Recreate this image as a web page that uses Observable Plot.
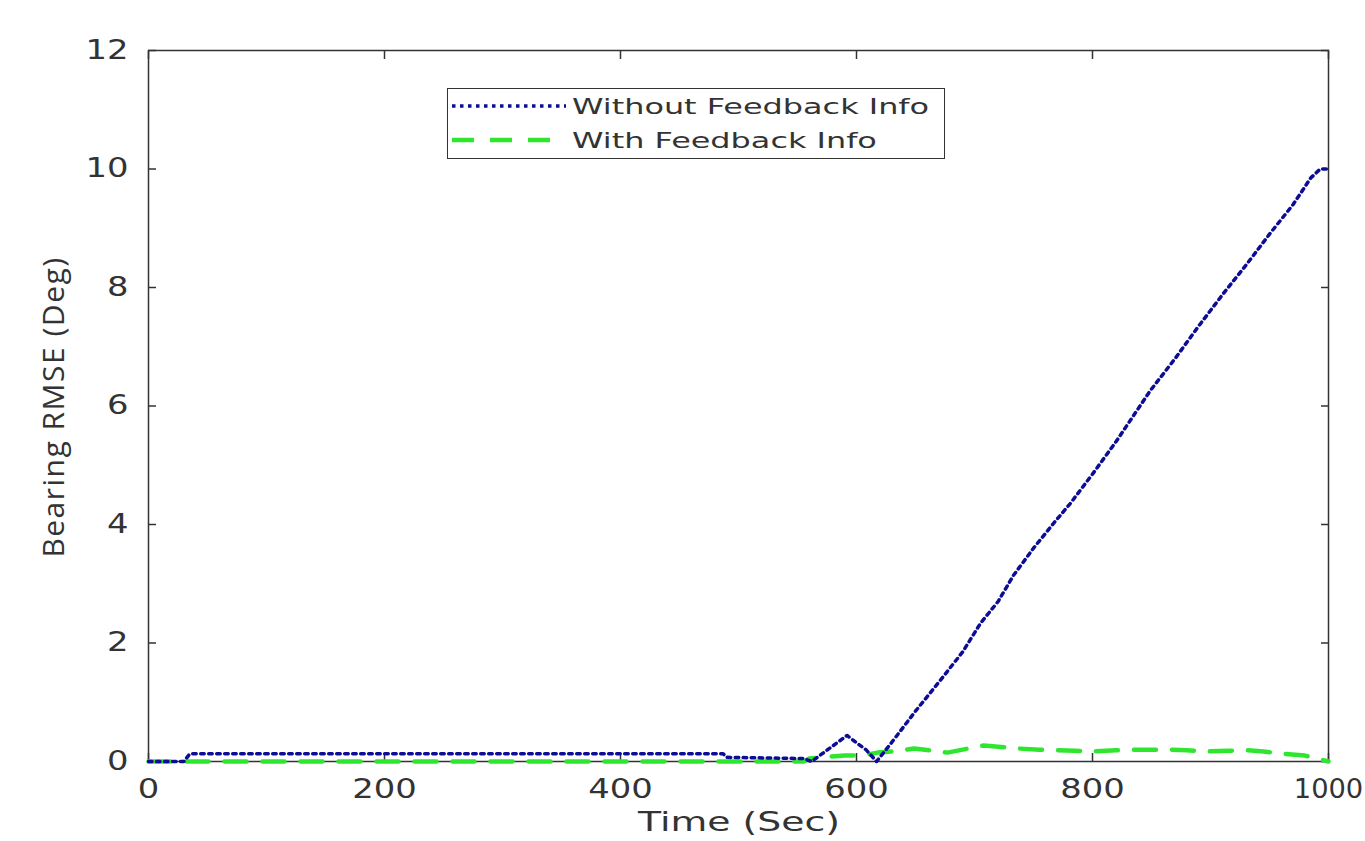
<!DOCTYPE html>
<html>
<head>
<meta charset="utf-8">
<script src="https://cdn.jsdelivr.net/npm/d3@7"></script>
<script src="https://cdn.jsdelivr.net/npm/@observablehq/plot@0.6"></script>
<style>
  html, body { margin: 0; padding: 0; background: #fff; }
  #wrap { position: relative; width: 1365px; height: 841px; overflow: hidden; }
  #legend { position: absolute; left: 447px; top: 88px; width: 496px; height: 69px;
            border: 1.5px solid #333; background: #fff; }
</style>
</head>
<body>
<div id="wrap">
  <div id="chart"></div>
  <div id="legend"></div>
</div>
<script>
// ---- data ----
const seriesNames = ["Without Feedback Info", "With Feedback Info"];

const timeWithout = [0, 30, 35, 487, 490, 555, 562, 592, 601, 608, 617, 629, 650, 671, 690, 705, 720, 733, 750, 767, 781, 800, 820, 849, 870, 890, 911, 931, 950, 970, 985, 993, 1000];
const rmseWithout = [0, 0, 0.13, 0.13, 0.07, 0.05, 0.0, 0.44, 0.3, 0.2, 0.0, 0.3, 0.85, 1.37, 1.85, 2.33, 2.7, 3.14, 3.6, 4.02, 4.35, 4.85, 5.4, 6.26, 6.8, 7.35, 7.9, 8.4, 8.9, 9.4, 9.85, 10.0, 10.0];

const timeWith = [0, 555, 560, 575, 590, 605, 618, 635, 649, 665, 677, 695, 708, 720, 736, 755, 770, 785, 801, 820, 835, 850, 866, 880, 897, 915, 931, 945, 962, 980, 990, 1000];
const rmseWith = [0, 0, 0.05, 0.08, 0.1, 0.1, 0.15, 0.18, 0.22, 0.18, 0.15, 0.22, 0.27, 0.25, 0.22, 0.2, 0.19, 0.18, 0.17, 0.19, 0.2, 0.2, 0.2, 0.19, 0.17, 0.18, 0.19, 0.17, 0.13, 0.1, 0.05, 0];

const xTicks = [0, 200, 400, 600, 800, 1000];
const yTicks = [0, 2, 4, 6, 8, 10, 12];
const xTitle = "Time (Sec)";
const yTitle = "Bearing RMSE (Deg)";

const dataWithout = timeWithout.map((t, i) => ({t, v: rmseWithout[i]}));
const dataWith = timeWith.map((t, i) => ({t, v: rmseWith[i]}));

const blue = "#0c0c94";
const green = "#2ee62e";
const axisColor = "#333";
const font = "DejaVu Sans, sans-serif";
const blueDash = "3.5,4.5";
const greenDash = "22,16";

const chart = Plot.plot({
  width: 1365,
  height: 841,
  marginLeft: 148,
  marginRight: 37,
  marginTop: 50,
  marginBottom: 80,
  style: { fontFamily: font, fontSize: "26px", color: "#333", background: "#fff", overflow: "visible" },
  x: { domain: [0, 1000] },
  y: { domain: [0, 12] },
  marks: [
    Plot.frame({ stroke: axisColor, strokeWidth: 1.5 }),
    // tick labels
    Plot.axisX({ ticks: xTicks, tickSize: 0, tickPadding: 18, tickFormat: d => String(d),
                 label: null, fontSize: 26, fill: "#333" }),
    Plot.axisY({ ticks: yTicks, tickSize: 0, tickPadding: 20, tickFormat: d => String(d),
                 label: null, fontSize: 26, fill: "#333" }),
    // inward tick marks (MATLAB style), mirrored on all sides
    Plot.axisX({ ticks: xTicks, tickSize: -8, text: null, label: null, stroke: axisColor, strokeWidth: 1.5 }),
    Plot.axisX({ anchor: "top", ticks: xTicks, tickSize: -8, text: null, label: null, stroke: axisColor, strokeWidth: 1.5 }),
    Plot.axisY({ ticks: yTicks, tickSize: -8, text: null, label: null, stroke: axisColor, strokeWidth: 1.5 }),
    Plot.axisY({ anchor: "right", ticks: yTicks, tickSize: -8, text: null, label: null, stroke: axisColor, strokeWidth: 1.5 }),
    // series
    Plot.line(dataWith, { x: "t", y: "v", stroke: green, strokeWidth: 4.5, strokeDasharray: greenDash }),
    Plot.line(dataWithout, { x: "t", y: "v", stroke: blue, strokeWidth: 3.5, strokeDasharray: blueDash })
  ]
});
document.getElementById("chart").appendChild(chart);

// the reference text is horizontally stretched: widen tick labels
const svg = d3.select(chart);
svg.selectAll('g[aria-label="x-axis tick label"] text, g[aria-label="y-axis tick label"] text')
  .each(function() {
    const sel = d3.select(this);
    const t = sel.attr("transform") || "";
    const s = sel.text() === "1000" ? 1.05 : 1.3;   // keep the last label inside the page
    sel.attr("transform", t + ` scale(${s},1)`);
  });

// axis titles
svg.append("text")
  .attr("transform", "translate(739,831) scale(1.4,1)")
  .attr("text-anchor", "middle")
  .attr("font-family", font)
  .attr("font-size", 27)
  .attr("fill", "#333")
  .text(xTitle);

svg.append("text")
  .attr("transform", "translate(64,407) rotate(-90)")
  .attr("text-anchor", "middle")
  .attr("font-family", "Open Sans, Noto Sans, sans-serif")
  .attr("font-size", 30)
  .attr("letter-spacing", "1.5px")
  .attr("fill", "#333")
  .text(yTitle);

// legend overlay
const lg = d3.select("#legend").append("svg").attr("width", 496).attr("height", 69);
const rows = [
  { name: seriesNames[0], color: blue, dash: blueDash, w: 3.5, y: 17 },
  { name: seriesNames[1], color: green, dash: greenDash, w: 4.5, y: 51 }
];
rows.forEach(r => {
  lg.append("line").attr("x1", 4).attr("x2", 118).attr("y1", r.y).attr("y2", r.y)
    .attr("stroke", r.color).attr("stroke-width", r.w).attr("stroke-dasharray", r.dash);
  lg.append("text").attr("transform", `translate(124,${r.y}) scale(1.45,1)`).attr("dy", "0.36em")
    .attr("font-family", font).attr("font-size", 22).attr("fill", "#333").text(r.name);
});
</script>
</body>
</html>
